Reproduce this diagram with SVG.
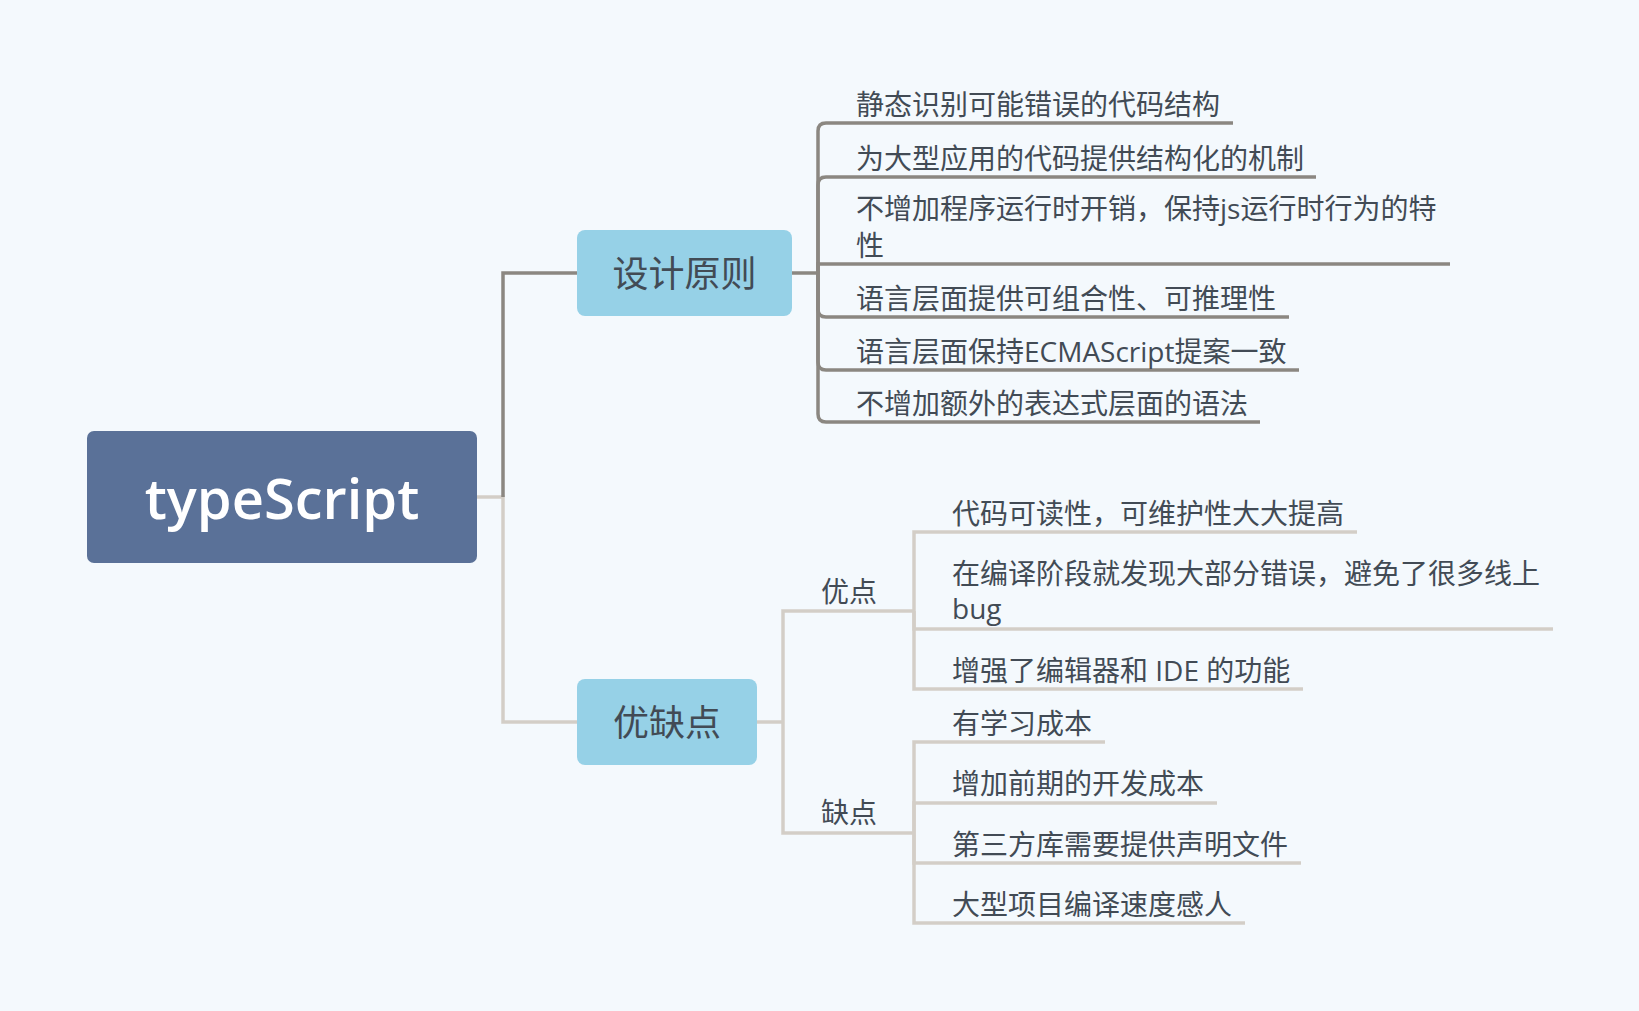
<svg xmlns="http://www.w3.org/2000/svg" width="1639" height="1011" viewBox="0 0 1639 1011">
<style>
  .bg { fill: #f4f9fd; }
  .root { fill: #5a7198; }
  .sub { fill: #96d1e7; }
  .t { font-family: "Open Sans", "Noto Sans CJK SC", sans-serif; fill: #424b55; }
  .leaf { font-size: 28px; }
  .subt { font-size: 36px; text-anchor: middle; }
  .roott { font-size: 56px; font-weight: 600; fill: #ffffff; text-anchor: middle; font-family: "Open Sans", sans-serif; }
  .dark { fill: none; stroke: #8b8781; stroke-width: 3.5; }
  .light { fill: none; stroke: #d3cec7; stroke-width: 3.5; }
</style>
<rect class="bg" x="0" y="0" width="1639" height="1011"/>

<g id="connectors">
  <path class="light" d="M477,497 H503 V722 H577"/>
  <path class="dark" d="M503,497 V273 H577"/>
  <path class="dark" d="M792,273 H818"/>
  <path class="dark" d="M818,273 V131 Q818,123 826,123 H1233"/>
  <path class="dark" d="M818,273 V185 Q818,177 826,177 H1316"/>
  <path class="dark" d="M818,273 V264 H1450"/>
  <path class="dark" d="M818,273 V309 Q818,317 826,317 H1289"/>
  <path class="dark" d="M818,273 V362 Q818,370 826,370 H1299"/>
  <path class="dark" d="M818,273 V414 Q818,422 826,422 H1260"/>
  <path class="light" d="M757,722 H783"/>
  <path class="light" d="M783,722 V611 H914"/>
  <path class="light" d="M783,722 V833 H914"/>
  <path class="light" d="M914,611 V532 H1357"/>
  <path class="light" d="M914,611 V629 H1553"/>
  <path class="light" d="M914,611 V689 H1303"/>
  <path class="light" d="M914,833 V742 H1105"/>
  <path class="light" d="M914,833 V803 H1217"/>
  <path class="light" d="M914,833 V863 H1301"/>
  <path class="light" d="M914,833 V923 H1245"/>
</g>

<g id="root">
  <rect class="root" x="87" y="431" width="390" height="132" rx="7"/>
  <text class="roott" x="282" y="519">typeScript</text>
</g>

<g id="design">
  <rect class="sub" x="577" y="230" width="215" height="86" rx="8"/>
  <text class="t subt" x="684.5" y="287">设计原则</text>
</g>
<g id="d1"><text class="t leaf" x="856" y="115">静态识别可能错误的代码结构</text></g>
<g id="d2"><text class="t leaf" x="856" y="169">为大型应用的代码提供结构化的机制</text></g>
<g id="d3"><text class="t leaf" x="856" y="219">不增加程序运行时开销，保持js运行时行为的特</text><text class="t leaf" x="856" y="256">性</text></g>
<g id="d4"><text class="t leaf" x="856" y="309">语言层面提供可组合性、可推理性</text></g>
<g id="d5"><text class="t leaf" x="856" y="362">语言层面保持ECMAScript提案一致</text></g>
<g id="d6"><text class="t leaf" x="856" y="414">不增加额外的表达式层面的语法</text></g>

<g id="proscons">
  <rect class="sub" x="577" y="679" width="180" height="86" rx="8"/>
  <text class="t subt" x="667" y="736">优缺点</text>
</g>
<g id="pros"><text class="t leaf" x="821" y="602">优点</text></g>
<g id="cons"><text class="t leaf" x="821" y="823">缺点</text></g>

<g id="p1"><text class="t leaf" x="952" y="524">代码可读性，可维护性大大提高</text></g>
<g id="p2"><text class="t leaf" x="952" y="584">在编译阶段就发现大部分错误，避免了很多线上</text><text class="t leaf" x="952" y="619">bug</text></g>
<g id="p3"><text class="t leaf" x="952" y="681">增强了编辑器和 IDE 的功能</text></g>
<g id="c1"><text class="t leaf" x="952" y="734">有学习成本</text></g>
<g id="c2"><text class="t leaf" x="952" y="794">增加前期的开发成本</text></g>
<g id="c3"><text class="t leaf" x="952" y="855">第三方库需要提供声明文件</text></g>
<g id="c4"><text class="t leaf" x="952" y="915">大型项目编译速度感人</text></g>
</svg>
